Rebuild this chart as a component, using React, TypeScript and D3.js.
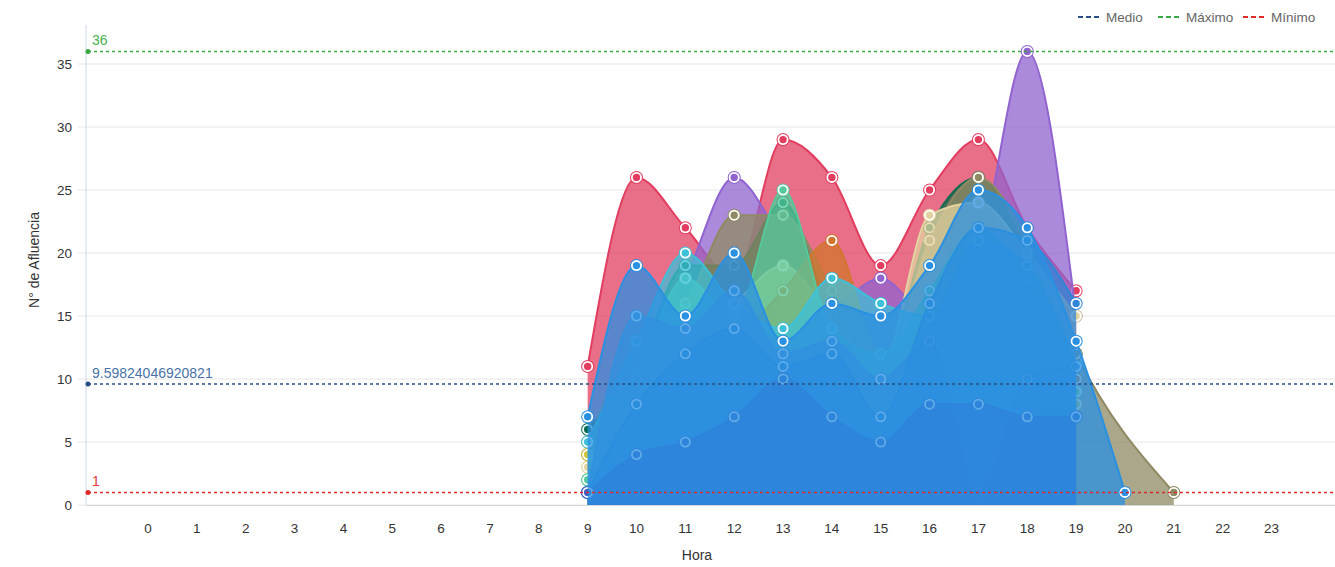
import React from "react";
import * as d3 from "d3";

const WIDTH = 1335;
const HEIGHT = 567;

const HOURS = d3.range(24);
const Y_TICKS = [0, 5, 10, 15, 20, 25, 30, 35];
const START_HOUR = 9;

// values from hour 9 onward (null = no point at that hour)
const red = [11, 26, 22, 18, 29, 26, 19, 25, 29, 22, 17];
const purple = [1, 11, 18, 26, 21, 16, 18, 15, 20, 36, 15];
const darkGreen = [6, 11, 19, 19, 24, 15, 11, 22, 26, 20, 12];
const olive = [5, 13, 16, 23, 23, 17, 10, 21, 26, 21, 12, null, 1];
const beige = [3, 9, 13, 16, 19, 15, 11, 23, 24, 20, 15];
const orange = [4, 7, 10, 13, 17, 21, 12, 14, 18, 16, 10];
const yellow = [4, 6, 9, 10, 11, 9, 6, 9, 12, 11, 8];
const lightGreen = [2, 5, 8, 9, 10, 8, 6, 7, 10, 9, 9];
const tealGreen = [2, 10, 18, 15, 25, 14, 12, 17, 22, 18, 11];
const cyan = [5, 13, 20, 16, 14, 18, 16, 15, 21, 19, 11];
const blueMidB = [1, 15, 14, 17, 12, 13, 10, 13, 1, 10, 11];
const blueMidA = [1, 8, 12, 14, 11, 12, 7, 16, 22, 21, 16];
const blueDark = [1, 4, 5, 7, 10, 7, 5, 8, 8, 7, 7];
const blueTop = [7, 19, 15, 20, 13, 16, 15, 19, 25, 22, 13, 1];

const MEDIO = 9.59824046920821;
const MAXIMO = 36;
const MINIMO = 1;

const SERIES = [
  { values: red, color: "#e23d5f" },
  { values: purple, color: "#9063cf" },
  { values: darkGreen, color: "#0b6b4e" },
  { values: olive, color: "#8f8a63" },
  { values: beige, color: "#e3d3a0" },
  { values: orange, color: "#d2762e" },
  { values: yellow, color: "#cfc43a" },
  { values: lightGreen, color: "#86d86a" },
  { values: tealGreen, color: "#56c99c" },
  { values: cyan, color: "#3ec0d8" },
  { values: blueMidB, color: "#4a8fd6" },
  { values: blueMidA, color: "#2f86d6" },
  { values: blueDark, color: "#3d5fc8" },
  { values: blueTop, color: "#2a90e2" },
];

const REF_LINES = [
  { value: MAXIMO, color: "#3aa845", textColor: "#4caf50", label: "36" },
  { value: MEDIO, color: "#2a4f86", textColor: "#4872a6", label: String(MEDIO) },
  { value: MINIMO, color: "#e02a2a", textColor: "#e53935", label: "1" },
];

const LEGEND = [
  { name: "Medio", color: "#2a4f86" },
  { name: "Máximo", color: "#3aa845" },
  { name: "Mínimo", color: "#e02a2a" },
];

const FONT = "'Liberation Sans', Arial, sans-serif";

export default function App() {
  const plotLeft = 86;
  const plotRight = WIDTH;
  const x = d3.scaleLinear().domain([-1.27, 24.3]).range([plotLeft, plotRight]);
  const y = d3.scaleLinear().domain([0, 35]).range([505, 64]);

  const area = d3
    .area<[number, number]>()
    .x((d) => x(d[0]))
    .y0(y(0))
    .y1((d) => y(d[1]))
    .curve(d3.curveMonotoneX);
  const line = d3
    .line<[number, number]>()
    .x((d) => x(d[0]))
    .y((d) => y(d[1]))
    .curve(d3.curveMonotoneX);

  const legendX = [1078, 1158, 1243];

  return (
    <svg
      width={WIDTH}
      height={HEIGHT}
      style={{ position: "absolute", left: 0, top: 0, background: "#fff" }}
      fontFamily={FONT}
    >
      {/* grid */}
      {Y_TICKS.map((t) => (
        <g key={t}>
          <line x1={plotLeft - 8} x2={plotRight} y1={y(t)} y2={y(t)} stroke="#e6e6e6" strokeWidth={1} />
          <text x={72} y={y(t) + 5} textAnchor="end" fontSize={13.5} fill="#333">
            {t}
          </text>
        </g>
      ))}
      <line x1={plotLeft} x2={plotLeft} y1={25} y2={y(0)} stroke="#ccd6eb" strokeWidth={1} />
      <line x1={plotLeft} x2={plotRight} y1={y(0) + 0.5} y2={y(0) + 0.5} stroke="#d8d8d8" strokeWidth={1} />

      {/* x labels */}
      {HOURS.map((h) => (
        <text key={h} x={x(h)} y={533} textAnchor="middle" fontSize={13.5} fill="#333">
          {h}
        </text>
      ))}
      <text x={697} y={560} textAnchor="middle" fontSize={14} fill="#333">
        Hora
      </text>
      <text transform={`translate(39, 260) rotate(-90)`} textAnchor="middle" fontSize={14} fill="#333">
        N° de Afluencia
      </text>

      {/* series */}
      {SERIES.map((s, si) => {
        const pts: [number, number][] = s.values
          .map((v, i) => [START_HOUR + i, v] as [number, number | null])
          .filter((p) => p[1] !== null) as [number, number][];
        return (
          <g key={si}>
            <path d={area(pts) || ""} fill={s.color} fillOpacity={0.75} />
            <path d={line(pts) || ""} fill="none" stroke={s.color} strokeWidth={2} />
            {pts.map((p, pi) => (
              <g key={pi}>
                <circle cx={x(p[0])} cy={y(p[1])} r={6.5} fill={s.color} />
                <circle cx={x(p[0])} cy={y(p[1])} r={4.6} fill={s.color} stroke="#fff" strokeWidth={1.8} />
              </g>
            ))}
          </g>
        );
      })}

      {/* reference lines */}
      {REF_LINES.map((r) => (
        <g key={r.label}>
          <line
            x1={88}
            x2={plotRight}
            y1={y(r.value)}
            y2={y(r.value)}
            stroke={r.color}
            strokeWidth={1.5}
            strokeDasharray="3,3"
          />
          <circle cx={88} cy={y(r.value)} r={2.5} fill={r.color} />
          <text x={92} y={y(r.value) - 6} fontSize={14} fill={r.textColor}>
            {r.label}
          </text>
        </g>
      ))}

      {/* legend */}
      {LEGEND.map((l, i) => (
        <g key={l.name}>
          <line
            x1={legendX[i]}
            x2={legendX[i] + 22}
            y1={17}
            y2={17}
            stroke={l.color}
            strokeWidth={2}
            strokeDasharray="5,3"
          />
          <text x={legendX[i] + 28} y={22} fontSize={13.5} fill="#666">
            {l.name}
          </text>
        </g>
      ))}
    </svg>
  );
}
